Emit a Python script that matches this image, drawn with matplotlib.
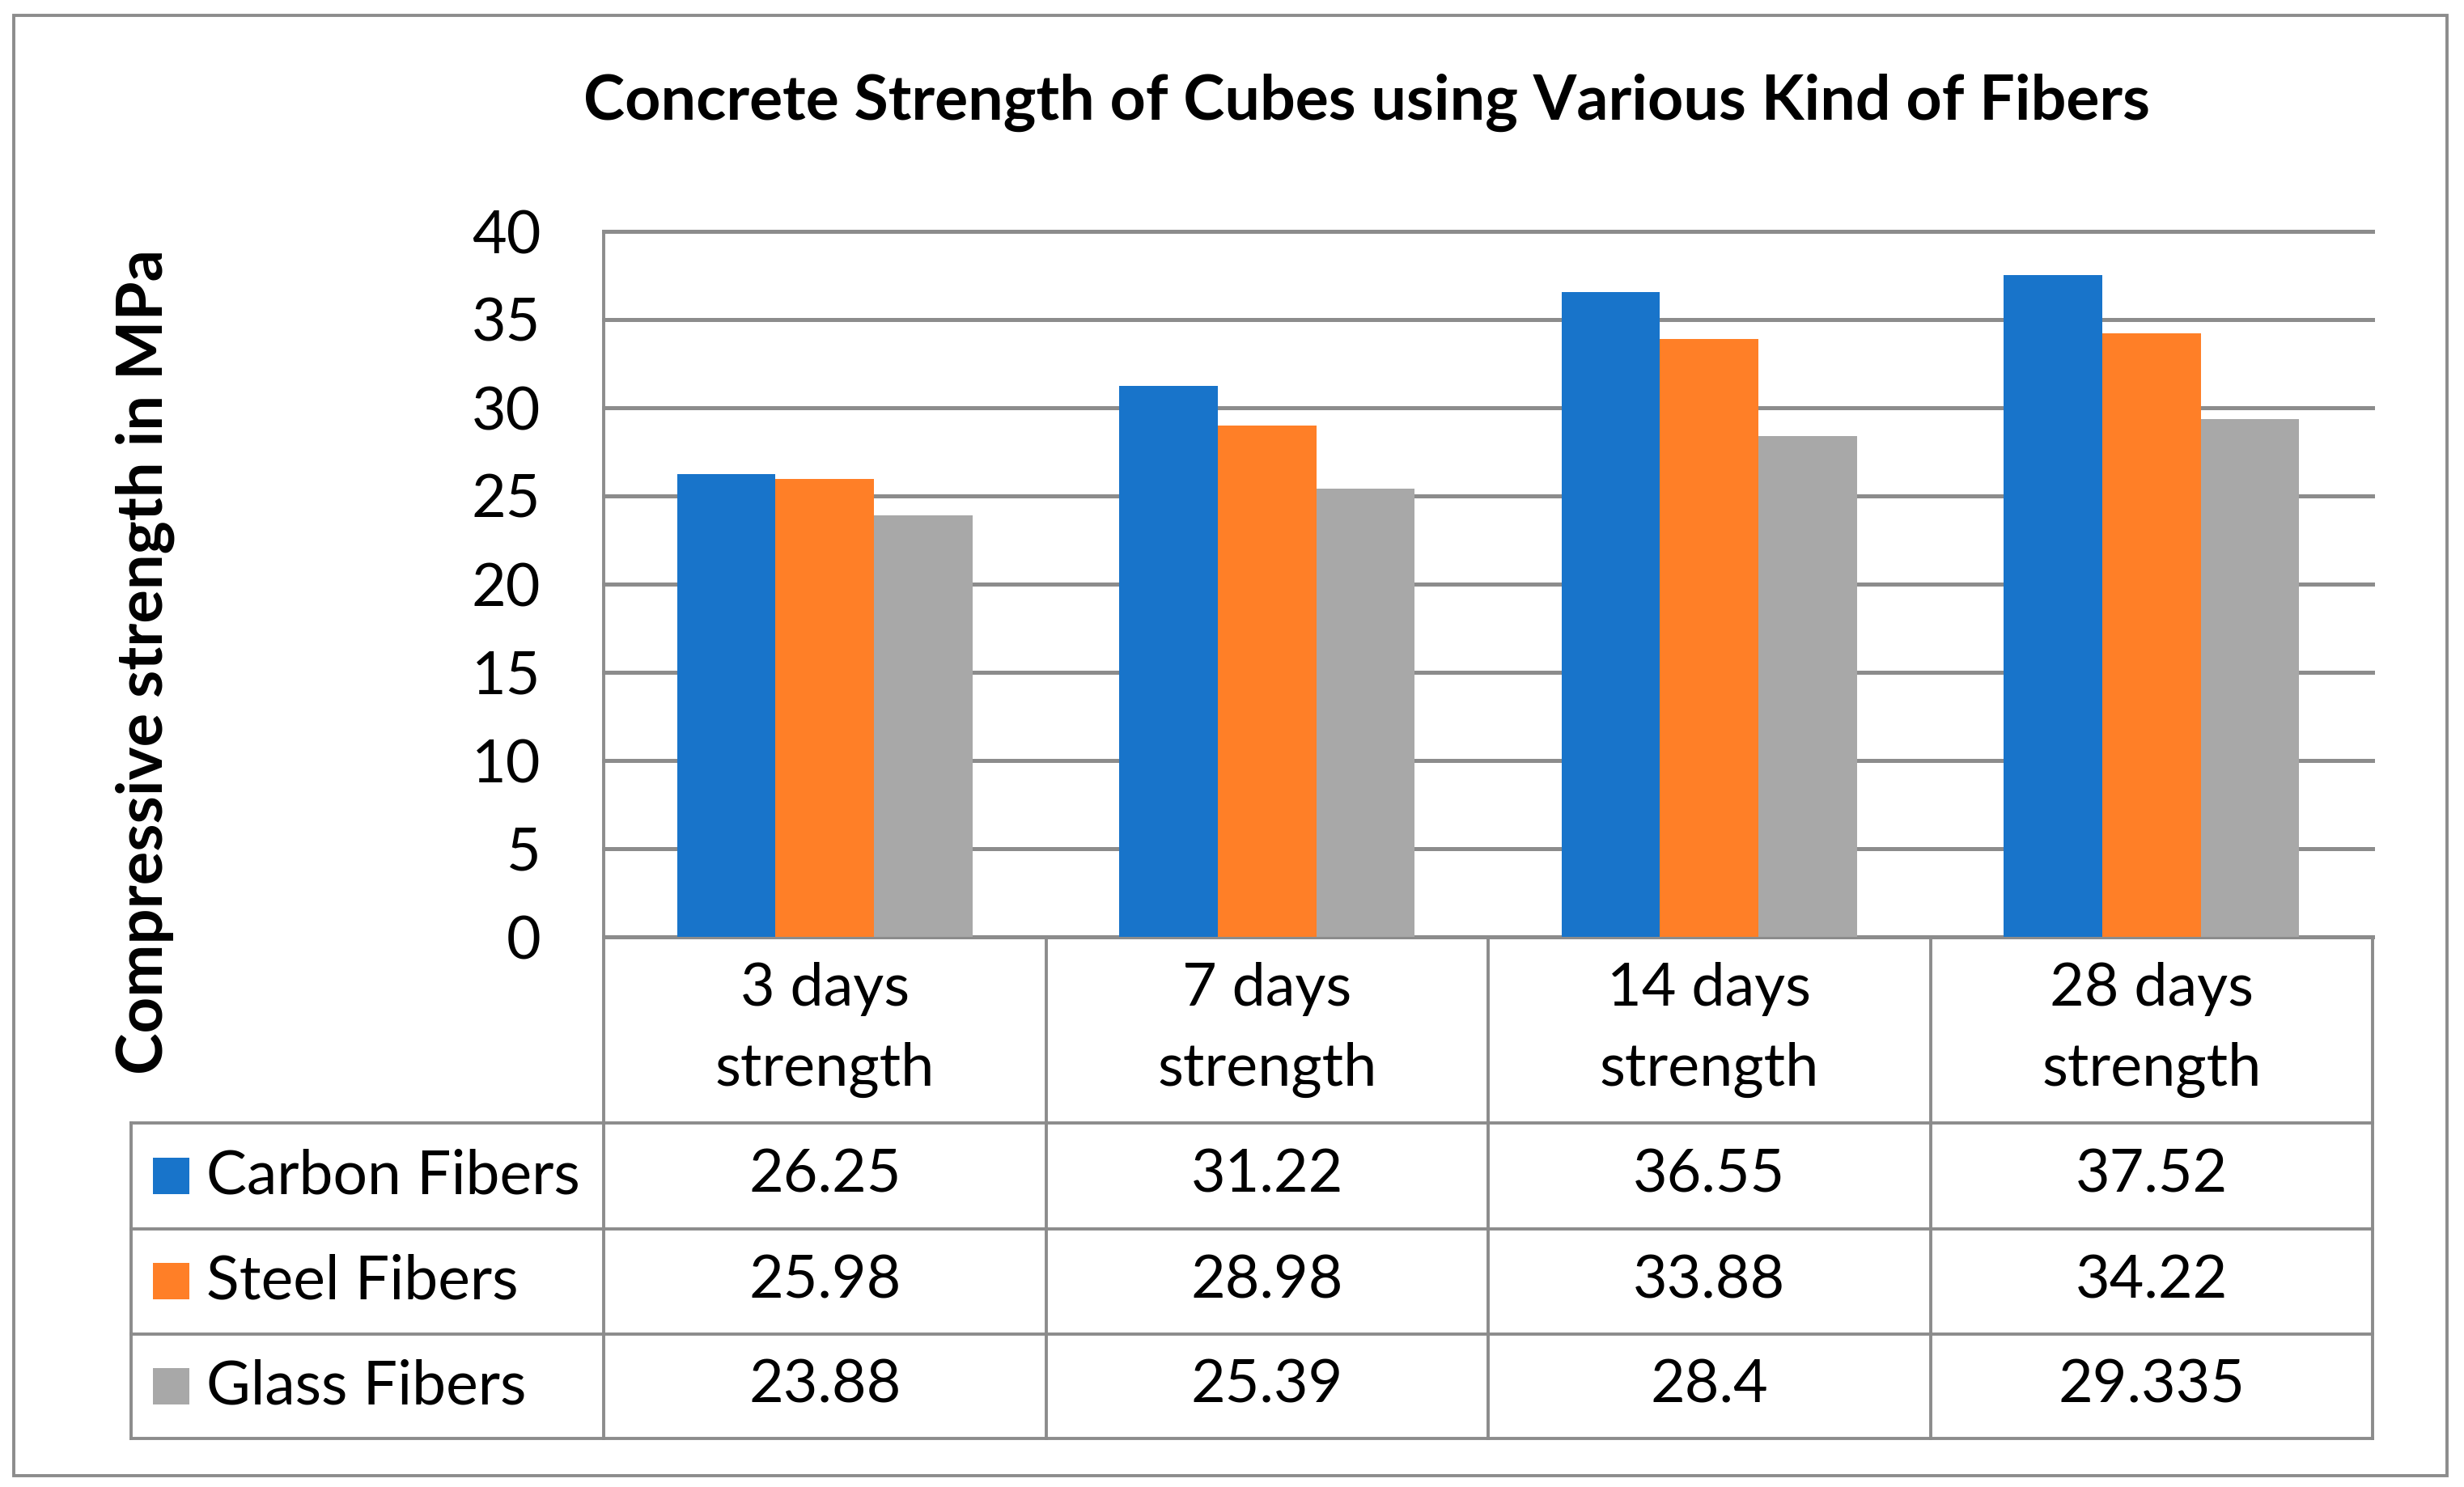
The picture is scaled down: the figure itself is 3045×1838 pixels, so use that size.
import numpy as np
import matplotlib
matplotlib.use('Agg')
import matplotlib.pyplot as plt
from matplotlib.patches import Rectangle
from matplotlib.lines import Line2D
from matplotlib.transforms import blended_transform_factory

plt.rcParams['font.family'] = ['Lato', 'DejaVu Sans']

# data
categories = ['3 days\nstrength', '7 days\nstrength', '14 days\nstrength', '28 days\nstrength']
series_names = ['Carbon Fibers', 'Steel Fibers', 'Glass Fibers']
carbon = [26.25, 31.22, 36.55, 37.52]
steel = [25.98, 28.98, 33.88, 34.22]
glass = [23.88, 25.39, 28.4, 29.335]
y_ticks = [0, 5, 10, 15, 20, 25, 30, 35, 40]

series = [carbon, steel, glass]
colors = ['#1874CA', '#FF7F27', '#A8A8A8']
line_c = '#8C8C8C'

# figure in pixels
W, H = 3045, 1838
fig = plt.figure(figsize=(W / 100, H / 100), dpi=100)


def fx(x):
    return x / W


def fy(y):
    return 1 - y / H


ax_l, ax_r, ax_t, ax_b = 746, 2932, 286, 1158
ax = fig.add_axes([fx(ax_l), fy(ax_b), (ax_r - ax_l) / W, (ax_b - ax_t) / H])

x = np.arange(len(categories))
bw = 0.2224
for i, (vals, col) in enumerate(zip(series, colors)):
    ax.bar(x + (i - 1) * bw, vals, width=bw, color=col, zorder=3)

ax.set_xlim(-0.5, len(categories) - 0.5)
ax.set_ylim(0, 40)
ax.set_yticks(y_ticks)
ax.set_xticks([])
ax.tick_params(axis='y', length=0, pad=56, labelsize=53)
for s in ax.spines.values():
    s.set_visible(False)
ax.grid(axis='y', color=line_c, lw=3.6, zorder=0)
ax.set_axisbelow(True)
for gl in ax.get_ygridlines():
    gl.set_clip_on(False)

fig.text(fx(179), fy(818), 'Compressive strength in MPa', rotation=90,
         ha='center', va='center', fontsize=56, fontweight='bold')

fig.text(fx(1689), fy(127), 'Concrete Strength of Cubes using Various Kind of Fibers',
         ha='center', va='center', fontsize=55.5, fontweight='bold')

# data table under the plot
tr = blended_transform_factory(ax.transData, fig.transFigure)
tab_l = 162
rows = [1158, 1388, 1519, 1649, 1778]
tlw = 2.8

# left line of the plot area, down to the bottom of the table
fig.add_artist(Line2D([fx(ax_l), fx(ax_l)], [fy(ax_t), fy(rows[-1])],
                      transform=fig.transFigure, color=line_c, lw=tlw))
# column lines
for xe in np.arange(0.5, len(categories), 1.0):
    ax.add_line(Line2D([xe, xe], [fy(rows[0]), fy(rows[-1])], transform=tr,
                       color=line_c, lw=tlw, clip_on=False))
# left line of the legend column
fig.add_artist(Line2D([fx(tab_l), fx(tab_l)], [fy(rows[1]), fy(rows[-1])],
                      transform=fig.transFigure, color=line_c, lw=tlw))
# row lines
for ry in rows[1:]:
    fig.add_artist(Line2D([fx(tab_l), fx(ax_r)], [fy(ry), fy(ry)],
                          transform=fig.transFigure, color=line_c, lw=tlw))

# header row with category names
hy = (rows[0] + rows[1]) / 2
for i, cat in enumerate(categories):
    ax.text(i, fy(hy), cat, transform=tr, ha='center', va='center',
            fontsize=53, linespacing=1.6)

# value rows
for r, (name, vals, col) in enumerate(zip(series_names, series, colors)):
    cy = (rows[r + 1] + rows[r + 2]) / 2
    fig.add_artist(Rectangle((fx(189), fy(cy + 22)), 45 / W, 45 / H,
                             transform=fig.transFigure, color=col, lw=0))
    fig.text(fx(255), fy(cy), name, ha='left', va='center', fontsize=54)
    for i, v in enumerate(vals):
        ax.text(i, fy(cy), f'{v:g}', transform=tr, ha='center', va='center', fontsize=53)

# outer chart border
fig.add_artist(Rectangle((fx(17), fy(1824)), (3024 - 17) / W, (1824 - 19) / H,
                         transform=fig.transFigure, fill=False, ec=line_c, lw=2.8))

fig.savefig('out.png', dpi=100)
